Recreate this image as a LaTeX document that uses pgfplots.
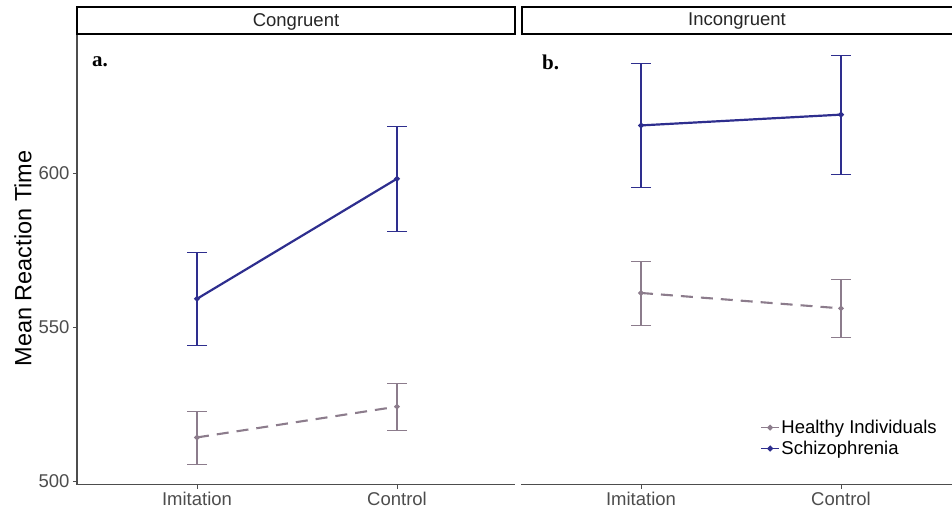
\documentclass[border=0pt]{standalone}
\usepackage{pgfplots}
\pgfplotsset{compat=1.18}
\usepackage{fontspec}
\setmainfont{Liberation Sans}
\newfontfamily\serifbold{Liberation Serif}
\definecolor{schz}{HTML}{2E2E8E}
\definecolor{hlth}{HTML}{8C7C8C}
\definecolor{axgray}{HTML}{4D4D4D}
\pgfplotsset{
  panel/.style={scale only axis, anchor=south west, height=450.3bp,
    ymin=498.95, ymax=645.15, xmin=-0.6,
    xtick={0,1}, xticklabels={Imitation,Control}, ytick={500,550,600},
    tick align=outside, major tick length=4bp,
    tick style={axgray, line width=0.9bp},
    axis line style={axgray, line width=1.3bp},
    tick label style={font=\fontsize{18.5bp}{22bp}\selectfont, text=axgray},
    /pgf/number format/assume math mode=true, clip=false,
    error bars/y dir=both, error bars/y explicit,
    error bars/error mark options={rotate=90, mark size=10bp, solid},
    legend image code/.code={\draw[#1,solid,line width=1.5bp] (0bp,0bp) -- (18bp,0bp); \fill[#1] (9bp,0bp) circle (1.6bp);},
  },
  schzplot/.style={schz, line width=2.2bp, mark=*, mark size=1.6bp, mark options={solid},
    error bars/error bar style={solid, line width=2.2bp}},
  hlthplot/.style={hlth, line width=2.1bp, dash pattern=on 12bp off 8bp, mark=*, mark size=1.6bp, mark options={solid},
    error bars/error bar style={solid, line width=2.1bp}},
}
\begin{document}
\begin{tikzpicture}
\clip (0bp,0bp) rectangle (952bp,516bp);
% panel a
\begin{axis}[panel, at={(77bp,31.3bp)}, width=438bp, xmax=1.59,
  axis x line*=bottom, axis y line*=left]
\addplot[hlthplot] coordinates {(0,514.3) +- (0,8.6) (1,524.3) +- (0,7.6)};
\addplot[schzplot] coordinates {(0,559.3) +- (0,15.0) (1,598.3) +- (0,16.9)};
\end{axis}
% panel b
\begin{axis}[panel, at={(521bp,31.3bp)}, width=431bp, xmax=1.555,
  axis x line*=bottom, axis y line=none,
  legend style={draw=none, fill=none, at={(0.555,0.147)}, anchor=north west,
    font=\fontsize{18.5bp}{21bp}\selectfont, row sep=3bp, inner sep=0pt,
    nodes={inner sep=1.5bp}},
  legend cell align=left]
\addplot[hlthplot] coordinates {(0,561.2) +- (0,10.4) (1,556.2) +- (0,9.4)};
\addlegendentry{Healthy Individuals}
\addplot[schzplot] coordinates {(0,615.6) +- (0,20.2) (1,619.1) +- (0,19.4)};
\addlegendentry{Schizophrenia}
\end{axis}
% strips
\draw[black, line width=1.8bp, fill=white] (77bp,482bp) rectangle (515bp,509bp);
\node[font=\fontsize{18.5bp}{20bp}\selectfont, text=black!85] at (296bp,494.5bp) {Congruent};
\draw[black, line width=1.8bp, fill=white] (522bp,482bp) rectangle (960bp,509bp);
\node[font=\fontsize{18.5bp}{20bp}\selectfont, text=black!85] at (737bp,494.5bp) {Incongruent};
% panel letters
\node[anchor=west, font=\serifbold\bfseries\fontsize{21bp}{24bp}\selectfont, inner sep=0] at (92bp,454bp) {a.};
\node[anchor=west, font=\serifbold\bfseries\fontsize{21bp}{24bp}\selectfont, inner sep=0] at (542bp,454bp) {b.};
% y label
\node[rotate=90, font=\fontsize{23.5bp}{26bp}\selectfont] at (23bp,257.5bp) {Mean Reaction Time};
\end{tikzpicture}
\end{document}
